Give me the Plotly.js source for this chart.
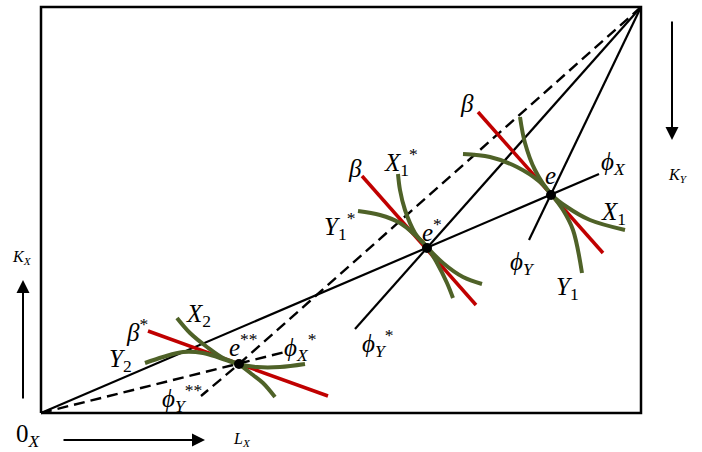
<!DOCTYPE html>
<html>
<head>
<meta charset="utf-8">
<script src="https://cdn.plot.ly/plotly-3.0.1.min.js"></script>
<style>html,body{margin:0;padding:0;background:#fff;}#chart{width:702px;height:452px;}</style>
</head>
<body>
<div id="chart"></div>
<script>
// Edgeworth box: data in box units, origin 0_X at (0,0), origin 0_Y at (600,406)
const boxX = [0, 600, 600, 0, 0];
const boxY = [0, 0, 406, 406, 0];

// equilibrium points e, e*, e**
const eqX = [510, 386, 198];
const eqY = [218, 165, 49];

// solid rays
const phiX_x = [0, 386, 510, 558];       // from 0_X through e*, e
const phiX_y = [0, 165, 218, 239];
const phiYs_x = [600, 386, 314];          // from 0_Y through e*
const phiYs_y = [406, 165, 84];
const phiY_x = [600, 510, 488];           // from 0_Y through e
const phiY_y = [406, 218, 173];

// dashed rays
const phiYss_x = [600, 198, 160];         // from 0_Y through e**
const phiYss_y = [406, 49, 17];
const phiXs_x = [0, 198, 244];            // from 0_X through e**
const phiXs_y = [0, 49, 61];

// red price lines (beta)
const beta1_x = [437, 562], beta1_y = [301, 160];
const beta2_x = [321, 435], beta2_y = [237, 108];
const beta3_x = [107, 287], beta3_y = [82, 17];

// green isoquants
const X1_x = [479, 484, 494, 510, 526, 549, 584];
const X1_y = [296, 270, 243, 219, 206, 193, 183];
const Y1_x = [422, 449, 476, 499, 510, 522, 532, 541];
const Y1_y = [259, 256, 246, 231, 219, 203, 183, 140];
const X1s_x = [357, 359, 364, 374, 386, 402, 422, 441];
const X1s_y = [239, 223, 203, 180, 166, 150, 136, 129];
const Y1s_x = [317, 339, 359, 374, 386, 396, 406, 412];
const Y1s_y = [202, 198, 190, 178, 166, 150, 130, 115];
const X2_x = [136, 149, 166, 182, 197, 212, 222, 234];
const X2_y = [95, 80, 66, 55, 49, 38, 30, 16];
const Y2_x = [104, 122, 142, 162, 179, 197, 216, 239, 264];
const Y2_y = [50, 56, 61, 60, 55, 49, 46, 46, 49];

// labels
const labText = [
  '<i>β</i>', '<i>e</i>', '<i>ϕ</i><sub><i>X</i></sub>', '<i>X</i><sub>1</sub>',
  '<i>ϕ</i><sub><i>Y</i></sub>', '<i>Y</i><sub>1</sub>',
  '<i>β</i>', '<i>X</i><sub>1</sub><sup>*</sup>', '<i>Y</i><sub>1</sub><sup>*</sup>', '<i>e</i><sup>*</sup>',
  '<i>ϕ</i><sub><i>Y</i></sub><sup>*</sup>',
  '<i>β</i><sup>*</sup>', '<i>X</i><sub>2</sub>', '<i>Y</i><sub>2</sub>', '<i>e</i><sup>**</sup>',
  '<i>ϕ</i><sub><i>X</i></sub><sup>*</sup>', '<i>ϕ</i><sub><i>Y</i></sub><sup>**</sup>',
  '0<sub><i>X</i></sub>'
];
const labX = [426, 509, 572, 572, 481, 526, 314, 360, 298, 391, 336, 96, 157, 79, 202, 259, 141, -13];
const labY = [310, 238, 250, 200, 150, 125, 245, 251, 187, 183, 70, 83, 98, 53, 68, 66, 15, -22];

const smallText = ['<i>L</i><sub><i>X</i></sub>', '<i>K</i><sub><i>X</i></sub>', '<i>K</i><sub><i>Y</i></sub>'];
const smallX = [201, -19, 637];
const smallY = [-26, 156, 238];

// direction arrows: [tailX, tailY, headX, headY]
const arrTailX = [21, -18, 631], arrTailY = [-27, 13, 393];
const arrHeadX = [164, -18, 631], arrHeadY = [-27, 133, 273];

const green = '#4f6228', red = '#c00000';
function ln(x, y, color, width, dash, shape) {
  return {x: x, y: y, type: 'scatter', mode: 'lines', hoverinfo: 'skip',
          line: {color: color, width: width, dash: dash || 'solid', shape: shape || 'linear', smoothing: 1}};
}
const traces = [
  ln(phiX_x, phiX_y, '#000', 2.2),
  ln(phiYs_x, phiYs_y, '#000', 2.2),
  ln(phiY_x, phiY_y, '#000', 2.2),
  ln(phiYss_x, phiYss_y, '#000', 2.4, '11px,6px'),
  ln(phiXs_x, phiXs_y, '#000', 2.4, '11px,6px'),
  ln(beta1_x, beta1_y, red, 3.5),
  ln(beta2_x, beta2_y, red, 3.5),
  ln(beta3_x, beta3_y, red, 3.5),
  ln(X1_x, X1_y, green, 4, null, 'spline'),
  ln(Y1_x, Y1_y, green, 4, null, 'spline'),
  ln(X1s_x, X1s_y, green, 4, null, 'spline'),
  ln(Y1s_x, Y1s_y, green, 4, null, 'spline'),
  ln(X2_x, X2_y, green, 4, null, 'spline'),
  ln(Y2_x, Y2_y, green, 4, null, 'spline'),
  ln(boxX, boxY, '#000', 2.5),
  {x: eqX, y: eqY, type: 'scatter', mode: 'markers', hoverinfo: 'skip',
   marker: {color: '#000', size: 10}}
];

const font = {family: 'Liberation Serif, DejaVu Serif, serif', size: 25, color: '#000'};
const annotations = [];
labText.forEach((t, i) => annotations.push({x: labX[i], y: labY[i], text: t, showarrow: false,
  xanchor: 'center', yanchor: 'middle', font: font}));
smallText.forEach((t, i) => annotations.push({x: smallX[i], y: smallY[i], text: t, showarrow: false,
  xanchor: 'center', yanchor: 'middle', font: Object.assign({}, font, {size: 16})}));
arrHeadX.forEach((hx, i) => annotations.push({x: hx, y: arrHeadY[i], ax: arrTailX[i], ay: arrTailY[i],
  axref: 'x', ayref: 'y', xref: 'x', yref: 'y', text: '', showarrow: true,
  arrowhead: 2, arrowsize: 1.3, arrowwidth: 2, arrowcolor: '#000'}));

const layout = {
  width: 702, height: 452,
  margin: {l: 0, r: 0, t: 0, b: 0},
  paper_bgcolor: '#fff', plot_bgcolor: '#fff',
  showlegend: false,
  xaxis: {range: [-41, 661], visible: false, fixedrange: true},
  yaxis: {range: [-39, 413], visible: false, fixedrange: true},
  annotations: annotations
};
Plotly.newPlot('chart', traces, layout, {staticPlot: true});
</script>
</body>
</html>
